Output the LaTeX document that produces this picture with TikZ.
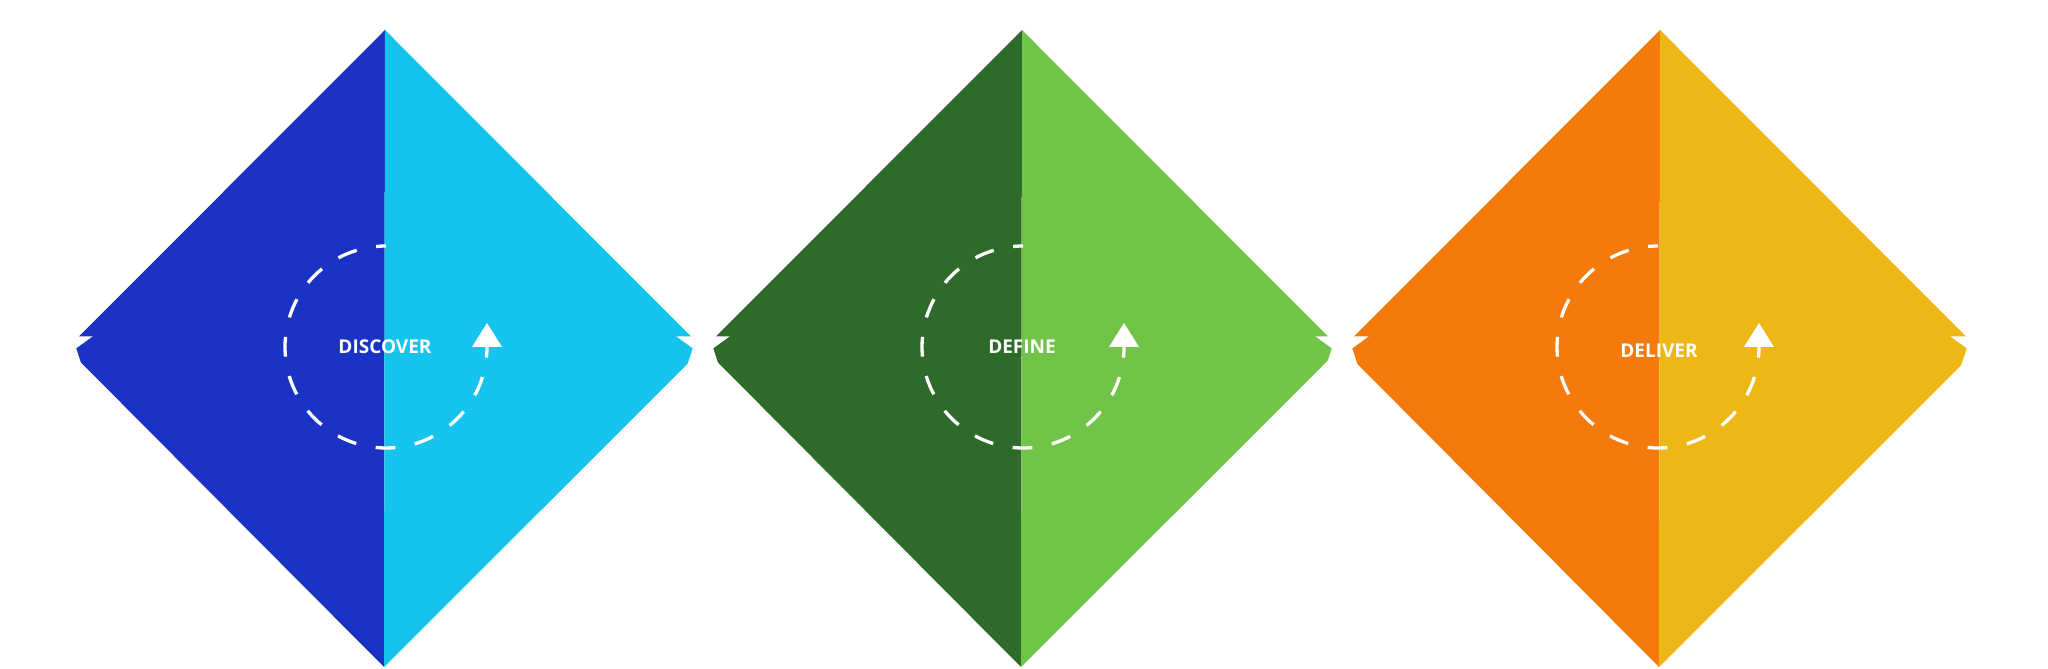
\documentclass[tikz,border=0pt]{standalone}
\usepackage{fontspec}
\setmainfont{Open Sans}
\usetikzlibrary{shapes.geometric}
\definecolor{dblue}{RGB}{27,51,196}
\definecolor{lblue}{RGB}{21,196,236}
\definecolor{dgreen}{RGB}{46,106,42}
\definecolor{lgreen}{RGB}{114,196,73}
\definecolor{orng}{RGB}{244,122,12}
\definecolor{yell}{RGB}{237,183,22}
\tikzset{
  loopline/.style={white, line width=3.3pt, dash pattern=on 19.8pt off 19.8pt, dash phase=9.9pt},
  phaselabel/.style={text=white, font=\bfseries\fontsize{19}{19}\selectfont, inner sep=0pt},
  joinstar/.style={star, star points=5, star point ratio=2.618, minimum size=56pt, inner sep=0pt, fill=white, draw=none}
}
\newcommand{\diamondpair}[3]{% cx, left color, right color
  \fill[#2] (#1,639) -- (#1-318,320.5) -- (#1-1,2) -- cycle;
  \fill[#3] (#1,639) -- (#1+318,320.5) -- (#1-1,2) -- cycle;
}
\newcommand{\loopmark}[1]{% cx
  \draw[loopline] (#1+1,322) ++(90:101) arc[start angle=90, end angle=360, radius=101];
  \fill[white] (#1+102-15,322) -- (#1+102+15,322) -- (#1+102,346) -- cycle;
}
\begin{document}
\begin{tikzpicture}[x=1pt,y=1pt]
\useasboundingbox (0,0) rectangle (2048,669);
\diamondpair{385}{dblue}{lblue}
\diamondpair{1022}{dgreen}{lgreen}
\diamondpair{1660}{orng}{yell}
\loopmark{385}
\loopmark{1022}
\loopmark{1657}
\node[phaselabel] (discover) at (385,322) {DISCOVER};
\node[phaselabel] (define) at (1022,322) {DEFINE};
\node[phaselabel] (deliver) at (1659,318) {DELIVER};
\node[joinstar] (s0) at (66,324) {};
\node[joinstar] (s1) at (703,324) {};
\node[joinstar] (s2) at (1342,324) {};
\node[joinstar] (s3) at (1977,324) {};
\end{tikzpicture}
\end{document}
